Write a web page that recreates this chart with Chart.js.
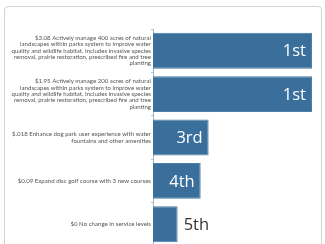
<!DOCTYPE html>
<html>
<head>
<meta charset="utf-8">
<script src="https://cdn.jsdelivr.net/npm/chart.js@4"></script>
<style>
  html, body { margin: 0; padding: 0; background: #fff; overflow: hidden; }
  .card {
    position: absolute; left: 4px; top: 6px; width: 316px; height: 270px;
    border: 1px solid #d4d4d4; border-radius: 4px; background: #fff;
  }
  #chart { position: absolute; left: 0; top: 0; }
</style>
</head>
<body>
<div class="card">
  <canvas id="chart" width="316" height="255"></canvas>
</div>
<script>
// categories (multi-line labels as shown)
const categories = [
    ['$3.08 Actively manage 400 acres of natural', 'landscapes within parks system to improve water', 'quality and wildlife habitat. Includes invasive species', 'removal, prairie restoration, prescribed fire and tree', 'planting'],
    ['$1.95 Actively manage 200 acres of natural', 'landscapes within parks system to improve water', 'quality and wildlife habitat. Includes invasive species', 'removal, prairie restoration, prescribed fire and tree', 'planting'],
    ['$.018 Enhance dog park user experience with water', 'fountains and other amenities'],
    ['$0.09 Expand disc golf course with 3 new courses'],
    ['$0 No change in service levels']
];
const scores = [100, 100, 35, 30, 15.5];
const ranks = ['1st', '1st', '3rd', '4th', '5th'];

// rank text at the end of each bar: inside in white if it fits, else outside
const rankLabels = {
    id: 'rankLabels',
    afterDatasetsDraw(chart) {
        const ctx = chart.ctx;
        const meta = chart.getDatasetMeta(0);
        ctx.save();
        ctx.font = '16.5px "Open Sans", sans-serif';
        ctx.textBaseline = 'middle';
        meta.data.forEach((bar, i) => {
            const text = ranks[i];
            const w = ctx.measureText(text).width;
            const barLen = bar.x - bar.base;
            if (barLen > w + 10) {
                ctx.fillStyle = '#ffffff';
                ctx.textAlign = 'right';
                ctx.fillText(text, bar.x - 6, bar.y + 1);
            } else {
                ctx.fillStyle = '#333333';
                ctx.textAlign = 'left';
                ctx.fillText(text, bar.x + 6, bar.y + 1);
            }
        });
        ctx.restore();
    }
};

const ctx = document.getElementById('chart').getContext('2d');
new Chart(ctx, {
    type: 'bar',
    data: {
        labels: categories,
        datasets: [{
            data: scores,
            backgroundColor: '#3a6f9b',
            borderColor: '#4d7fa8',
            borderWidth: 1,
            barPercentage: 0.92,
            categoryPercentage: 0.9
        }]
    },
    options: {
        indexAxis: 'y',
        responsive: false,
        animation: false,
        layout: { padding: { top: 22, right: 9, bottom: 0, left: 0 } },
        plugins: {
            legend: { display: false },
            tooltip: { enabled: false }
        },
        scales: {
            x: {
                display: false,
                min: 0,
                max: 100
            },
            y: {
                afterFit: (scale) => { scale.width = 148; },
                grid: {
                    drawOnChartArea: false,
                    tickLength: 2,
                    color: '#b9c6d3'
                },
                border: { color: '#9fb3c6', width: 1 },
                ticks: {
                    padding: 0,
                    color: '#555555',
                    autoSkip: false,
                    font: { family: 'Lato, sans-serif', size: 6.1, lineHeight: 1.05 }
                }
            }
        }
    },
    plugins: [rankLabels]
});
</script>
</body>
</html>
